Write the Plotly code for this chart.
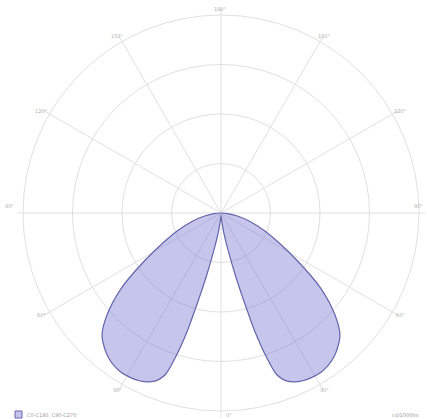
import math
import plotly.graph_objects as go

# Luminous intensity (cd/1000lm) against angle from nadir, one half-plane;
# the distribution is symmetric, so the other half mirrors it.
gamma_deg = [0, 5, 8, 11, 13, 14.5, 16, 17.5, 19, 21.5, 26, 32, 38, 44, 48, 53, 58, 63, 68, 74, 80, 85, 90]
intensity = [5, 15, 40, 80, 130, 180, 250, 305, 345, 365, 377, 380, 370, 346, 311, 252, 182, 130, 94, 60, 32, 14, 0]

ring_values = [100, 200, 300, 400]
spoke_angles = list(range(0, 360, 30))
spoke_labels = [f"{min(a, 360 - a)}°" for a in spoke_angles]

series_name = "C0-C180, C90-C270"
unit_label = "cd/1000lm"

# Close the curve: right half (negative angles) then left half.
theta = [-g for g in reversed(gamma_deg)] + gamma_deg[1:]
r = list(reversed(intensity)) + intensity[1:]

grid = "#e0e0e0"
fill_rgba = "rgba(120,120,210,0.42)"
edge = "#6464ac"
label_font = dict(size=5, color="#b0b0b0", family="DejaVu Sans")

W, H = 427, 419
ML, MR, MT, MB = 23, 8, 15, 8
PW, PH = W - ML - MR, H - MT - MB
CX, CY, RAD = ML + PW / 2, MT + PH / 2, PW / 2

fig = go.Figure()
fig.add_trace(go.Scatterpolar(
    r=r, theta=theta, mode="lines", fill="toself",
    fillcolor=fill_rgba,
    line=dict(color=edge, width=1.2, shape="spline", smoothing=0.8),
    name=series_name, showlegend=False,
))

fig.update_layout(
    width=W, height=H,
    margin=dict(l=ML, r=MR, t=MT, b=MB),
    paper_bgcolor="white",
    polar=dict(
        bgcolor="white",
        domain=dict(x=[0, 1], y=[0, 1]),
        radialaxis=dict(
            range=[0, ring_values[-1]], tickmode="array", tickvals=ring_values,
            showticklabels=False, ticks="", showline=False,
            gridcolor=grid, gridwidth=1,
        ),
        angularaxis=dict(
            rotation=-90, direction="clockwise",
            tickmode="array", tickvals=spoke_angles, ticktext=spoke_labels,
            showticklabels=False,
            ticks="outside", ticklen=6, tickcolor=grid,
            showline=True, linecolor=grid, linewidth=1,
            gridcolor=grid, gridwidth=1,
        ),
    ),
)


def px_to_paper(x, y):
    return (x - ML) / PW, (H - MB - y) / PH


# Spoke labels just outside the outer ring, kept inside the page
for ang, txt in zip(spoke_angles, spoke_labels):
    a = math.radians(ang)
    lx = CX - (RAD + 9) * math.sin(a)
    ly = CY + (RAD + 6) * math.cos(a)
    lx = min(max(lx, 8), W - 8)
    ly = min(max(ly, 5), H - 4)
    if ang == 90:
        lx, ly = 9, CY - 7
    elif ang == 270:
        lx, ly = W - 9, CY - 7
    elif ang == 0:
        lx, ly = CX + 8, H - 4
    px, py = px_to_paper(lx, ly)
    fig.add_annotation(xref="paper", yref="paper", x=px, y=py, text=txt,
                       showarrow=False, xanchor="center", yanchor="middle",
                       font=label_font)

# Legend swatch and caption at the foot of the chart
x0, y0 = px_to_paper(15, 418)
x1, y1 = px_to_paper(22, 411)
fig.add_shape(type="rect", xref="paper", yref="paper", x0=x0, y0=y0, x1=x1, y1=y1,
              fillcolor=fill_rgba, line=dict(color=edge, width=1))
tx, ty = px_to_paper(25, 414.5)
fig.add_annotation(xref="paper", yref="paper", x=tx, y=ty, text=series_name,
                   showarrow=False, xanchor="left", yanchor="middle",
                   font=dict(size=5, color="#999999", family="DejaVu Sans"))
ux, uy = px_to_paper(421, 414.5)
fig.add_annotation(xref="paper", yref="paper", x=ux, y=uy, text=unit_label,
                   showarrow=False, xanchor="right", yanchor="middle",
                   font=dict(size=5, color="#999999", family="DejaVu Sans"))

fig.write_html("out.html")
